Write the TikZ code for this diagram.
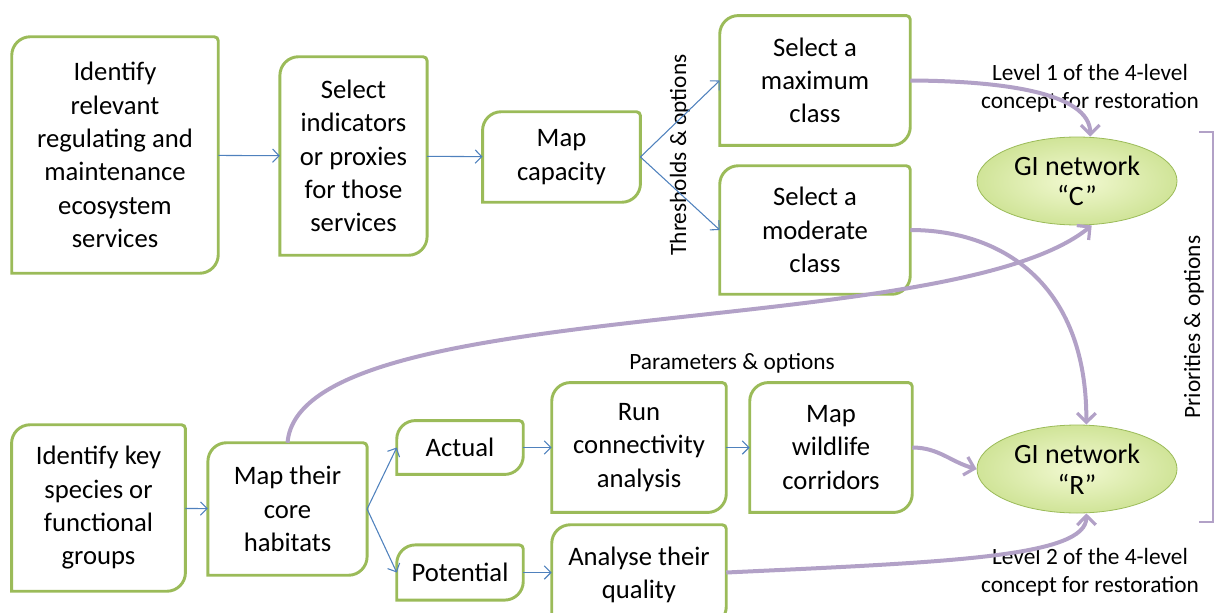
\documentclass[tikz,border=0pt]{standalone}
\usepackage{fontspec}
\setmainfont{Carlito}
\usetikzlibrary{shapes.geometric,arrows.meta}

\definecolor{boxgreen}{RGB}{155,187,89}
\definecolor{flowblue}{RGB}{79,129,189}
\definecolor{lilac}{RGB}{178,161,199}
\definecolor{gilight}{RGB}{242,249,210}
\definecolor{gidark}{RGB}{208,228,152}

\tikzset{
  gbox/.style 2 args={align=center, inner sep=0pt, fill=white,
     minimum width=#1, minimum height=#2, font=\fontsize{20}{25}\selectfont},
  frame/.style={draw=boxgreen, line width=2.2pt},
  gi/.style={ellipse, draw=boxgreen, line width=0.6pt, inner color=gilight, outer color=gidark,
     minimum width=150pt, minimum height=66pt, align=center, font=\fontsize{21}{23}\selectfont},
  note/.style={align=center, font=\fontsize{17.5}{21}\selectfont},
  flow/.style={draw=flowblue, line width=0.8pt, -{Straight Barb[length=5pt,width=10pt]}},
  link/.style={draw=lilac, line width=3pt, -{Straight Barb[length=7pt,width=14pt,line width=2.4pt]}}
}

\begin{document}
\begin{tikzpicture}[x=0.75pt,y=0.75pt]
%
         \useasboundingbox (0,0) rectangle (1219,612);

         % upper row
         \node [gbox={154.5pt}{177pt}] (idr)  at (115,457)   {Identify\\relevant\\regulating and\\maintenance\\ecosystem\\services};
         \node [gbox={110pt}{148.5pt}] (ind)  at (353.5,456) {Select\\indicators\\or proxies\\for those\\services};
         \node [gbox={118pt}{67.5pt}]  (cap)  at (561.5,455) {Map\\capacity};
         \node [gbox={142.5pt}{97pt}]  (maxc) at (815,531.5) {Select a\\maximum\\class};
         \node [gbox={142.5pt}{96pt}]  (modc) at (815,382)   {Select a\\moderate\\class};

         % lower row
         \node [gbox={130pt}{124.5pt}] (spec) at (98.5,104)  {Identify key\\species or\\functional\\groups};
         \node [gbox={119pt}{99pt}]    (core) at (287.5,103) {Map their\\core\\habitats};
         \node [gbox={94.5pt}{40pt}]   (act)  at (460,164.5) {Actual};
         \node [gbox={94.5pt}{41pt}]   (pot)  at (460,39.5)  {Potential};
         \node [gbox={130.5pt}{97pt}]  (conn) at (639,164.5) {Run\\connectivity\\analysis};
         \node [gbox={121.5pt}{97pt}]  (corr) at (831,164.5) {Map\\wildlife\\corridors};
         \node [gbox={130.5pt}{75pt}]  (qual) at (639,37)    {Analyse their\\quality};

         \foreach \b in {idr,ind,cap,maxc,modc,spec,core,act,pot,conn,corr,qual}
           \draw [frame] (\b.west) [rounded corners=14pt] -- (\b.north west) -- (\b.north)
                 [rounded corners=3pt] -- (\b.north east) -- (\b.east)
                 [rounded corners=14pt] -- (\b.south east) -- (\b.south)
                 [sharp corners] -- (\b.south west) -- cycle;

         % GI networks
         \node [gi] (gic) at (1077,431) {GI network\\“C”};
         \node [gi] (gir) at (1077,143) {GI network\\“R”};

         % labels
         \node [note] (lev1) at (1090,524) {Level 1 of the 4-level\\concept for restoration};
         \node [note] (lev2) at (1090,40)  {Level 2 of the 4-level\\concept for restoration};
         \node [note] (para) at (732,249)  {Parameters \& options};
         \node [note, rotate=90] (thre) at (680,457)  {Thresholds \& options};
         \node [note, rotate=90] (prio) at (1194,285) {Priorities \& options};

         % blue flow
         \draw [flow] (idr) -- (ind);
         \draw [flow] (ind) -- (cap);
         \draw [flow] (cap.east) -- (maxc.west);
         \draw [flow] (cap.east) -- (modc.west);
         \draw [flow] (spec) -- (core);
         \draw [flow] (core.east) -- (act.west);
         \draw [flow] (core.east) -- (pot.west);
         \draw [flow] (act) -- (conn);
         \draw [flow] (pot.east) -- (pot.east -| qual.west);
         \draw [flow] (conn) -- (corr);

         % purple links
         \draw [link] (maxc.east) .. controls (1000,531) and (1090,520) .. ([xshift=10pt]gic.north);
         \draw [link] (modc.east) .. controls (1000,382) and (1087,330) .. ([xshift=7pt]gir.north);
         \draw [link] (core.north) .. controls (300,320) and (950,270) .. ([xshift=11pt]gic.south);
         \draw [link] (corr.east) to [out=0, in=165] (gir.west);
         \draw [link] (qual.east |- pot.east) .. controls (950,50) and (1087,55) .. ([xshift=7pt]gir.south);

         % bracket
         \draw [lilac, line width=2pt] (1199,480) -- (1213,480) -- (1213,90) -- (1199,90);

\end{tikzpicture}
\end{document}
